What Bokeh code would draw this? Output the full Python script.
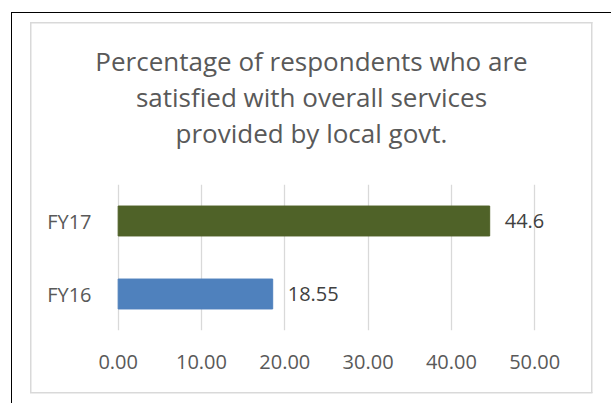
from bokeh.plotting import figure
from bokeh.models import (FactorRange, Range1d, FixedTicker, NumeralTickFormatter,
                          Label, ColumnDataSource)
from bokeh.core.properties import value
from bokeh.embed import file_html
from bokeh.resources import INLINE

# ---- data ----
categories = ["FY16", "FY17"]
values = [18.55, 44.6]
value_labels = ["18.55", "44.6"]
bar_colors = ["#4F81BD", "#4F6228"]
x_ticks = [0, 10, 20, 30, 40, 50]
title_lines = ["Percentage of respondents who are",
               "satisfied with overall services",
               "provided by local govt."]

FONT = "Open Sans"
W, H = 611, 403
FL, FR, FT, FB = 116, 580, 184, 330  # frame edges (canvas px)

p = figure(width=W, height=H, y_range=FactorRange(*categories),
           x_range=Range1d(-0.2, 55.5), output_backend="svg", toolbar_location=None,
           min_border_left=FL, min_border_right=W - FR,
           min_border_top=FT, min_border_bottom=H - FB)
p.background_fill_color = None
p.border_fill_color = None
p.outline_line_color = None

src = ColumnDataSource(dict(cat=categories, val=values, lab=value_labels, color=bar_colors))
p.hbar(y="cat", left=0, right="val", height=0.41, color="color", source=src)
p.text(x="val", y="cat", text="lab", source=src, x_offset=15,
       text_baseline="middle", text_align="left",
       text_font=value(FONT), text_font_size="20px", text_color="#404040")

# axes
xa = p.xaxis[0]
xa.ticker = FixedTicker(ticks=x_ticks)
xa.formatter = NumeralTickFormatter(format="0.00")
xa.axis_line_color = None
xa.major_tick_line_color = None
xa.minor_tick_line_color = None
xa.major_label_text_font = FONT
xa.major_label_text_font_size = "20px"
xa.major_label_text_color = "#595959"
xa.major_label_standoff = 18

ya = p.yaxis[0]
ya.axis_line_color = None
ya.major_tick_line_color = None
ya.minor_tick_line_color = None
ya.major_label_text_font = FONT
ya.major_label_text_font_size = "20px"
ya.major_label_text_color = "#595959"
ya.major_label_standoff = 19

p.ygrid.grid_line_color = None
p.xgrid.grid_line_color = "#D9D9D9"
p.xgrid.grid_line_width = 1.3

# multi-line title in the "above" panel (origin: panel bottom-left, y up)
p.add_layout(Label(x=311 - FL, y=FT - 42, x_units="screen", y_units="screen",
                   text="\n".join(title_lines), text_align="center", text_baseline="top",
                   text_line_height=1.0,
                   text_font=FONT, text_font_size="26px", text_color="#595959"), "above")

# decorative chart-area borders drawn behind the transparent canvas
lines = [  # (position, size, color)
    ("11px 12px", "1.4px 400px", "#000000"),
    ("11px 12px", "700px 1.4px", "#000000"),
    ("30px 22px", "1.5px 371px", "#D9D9D9"),
    ("591px 22px", "1.5px 371px", "#D9D9D9"),
    ("30px 22px", "562.5px 1.5px", "#D9D9D9"),
    ("30px 391.5px", "562.5px 1.5px", "#D9D9D9"),
]
p.styles = {
    "background-color": "white",
    "background-image": ", ".join(f"linear-gradient({c}, {c})" for _, _, c in lines),
    "background-position": ", ".join(pos for pos, _, _ in lines),
    "background-size": ", ".join(sz for _, sz, _ in lines),
    "background-repeat": "no-repeat",
}

open("out.html", "w").write(file_html(p, INLINE))
